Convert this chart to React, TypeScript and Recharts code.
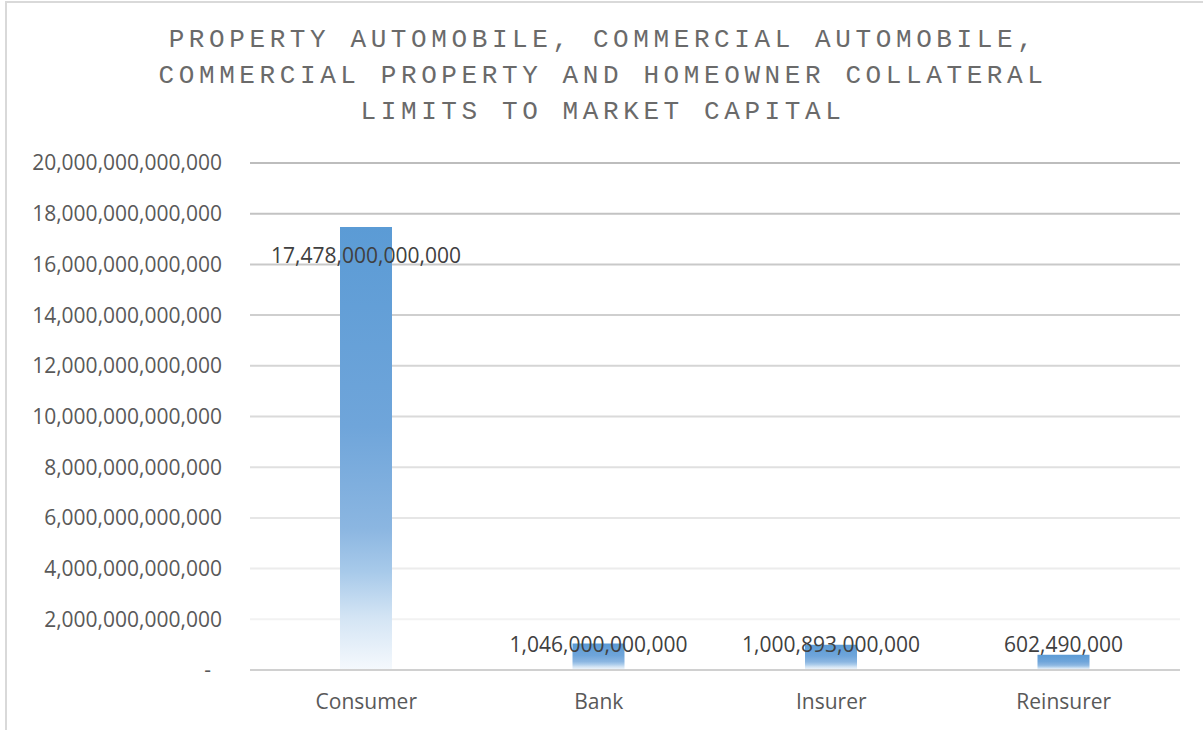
import React from "react";
import { BarChart, Bar, XAxis, YAxis, CartesianGrid, LabelList } from "recharts";

const categories = ["Consumer", "Bank", "Insurer", "Reinsurer"];
const values = [17478000000000, 1046000000000, 1000893000000, 602490000000];
const dataLabels = ["17,478,000,000,000", "1,046,000,000,000", "1,000,893,000,000", "602,490,000"];
const yTicks = [0, 2e12, 4e12, 6e12, 8e12, 10e12, 12e12, 14e12, 16e12, 18e12, 20e12];
const titleLines = [
  "PROPERTY AUTOMOBILE, COMMERCIAL AUTOMOBILE,",
  "COMMERCIAL PROPERTY AND HOMEOWNER COLLATERAL",
  "LIMITS TO MARKET CAPITAL",
];

const data = categories.map((c, i) => ({ name: c, value: values[i], label: dataLabels[i] }));

const AXIS_FONT = "'Open Sans', 'Noto Sans', sans-serif";

function lerp(a: number, b: number, t: number) {
  return Math.round(a + (b - a) * t);
}

const gridLine = (props: any) => {
  const { x1, y1, x2, y2, y, height, key } = props;
  let t = height ? (y1 - y) / height : 0;
  t = Math.max(0, Math.min(1, t / 0.9));
  const g = lerp(0xbd, 0xf2, t);
  const c = `rgb(${g},${g},${g})`;
  return <line key={key} x1={x1} y1={y1} x2={x2} y2={y2} stroke={c} strokeWidth={2} fill="none" />;
};

const yFormatter = (v: number) => (v === 0 ? "-\u00A0\u00A0" : v.toLocaleString("en-US"));

const renderLabel = (props: any) => {
  const { x, y, width, height, index } = props;
  const cx = x + width / 2;
  const cy = Math.min(y + 29, y + height - 25);
  return (
    <text
      x={cx}
      y={cy}
      dy="0.35em"
      textAnchor="middle"
      fill="#404040"
      fontSize={21}
      fontFamily={AXIS_FONT}
    >
      {dataLabels[index]}
    </text>
  );
};

export default function App() {
  return (
    <div
      style={{
        position: "absolute",
        left: 0,
        top: 0,
        width: 1203,
        height: 730,
        overflow: "hidden",
        background: "#ffffff",
      }}
    >
      <div
        style={{
          position: "absolute",
          left: 5,
          top: 1,
          width: 1198,
          height: 729,
          borderLeft: "2px solid #d9d9d9",
          borderTop: "2px solid #d9d9d9",
          boxSizing: "border-box",
        }}
      />
      <div
        style={{
          position: "absolute",
          left: 603 - 500,
          top: 22,
          width: 1000,
          textAlign: "center",
          fontFamily: "'Liberation Mono', 'Courier New', monospace",
          fontSize: 26,
          letterSpacing: 4.6,
          lineHeight: "36px",
          color: "#6a6a6a",
          whiteSpace: "pre",
        }}
      >
        {titleLines.map((l, i) => (
          <div key={i}>{l}</div>
        ))}
      </div>
      <div style={{ position: "absolute", left: 0, top: 0 }}>
        <BarChart
          width={1203}
          height={730}
          data={data}
          margin={{ top: 163, right: 23, bottom: 0, left: 0 }}
          barSize={52}
        >
          <defs>
            <linearGradient id="barGrad" x1="0" y1="0" x2="0" y2="1">
              <stop offset="0" stopColor="#5B9BD5" />
              <stop offset="0.45" stopColor="#6FA5DA" />
              <stop offset="0.68" stopColor="#8BB6E1" />
              <stop offset="0.78" stopColor="#A8CAEA" />
              <stop offset="0.88" stopColor="#D3E4F4" />
              <stop offset="1" stopColor="#F5F9FD" />
            </linearGradient>
          </defs>
          <CartesianGrid vertical={false} horizontal={gridLine} />
          <XAxis
            dataKey="name"
            height={60}
            tickLine={false}
            tickSize={0}
            tickMargin={24}
            axisLine={{ stroke: "#d0d0d0", strokeWidth: 2 }}
            tick={{ fill: "#595959", fontSize: 21, fontFamily: AXIS_FONT }}
          />
          <YAxis
            width={250}
            domain={[0, 20e12]}
            ticks={yTicks}
            interval={0}
            tickFormatter={yFormatter}
            tickLine={false}
            axisLine={false}
            tickSize={0}
            tickMargin={28}
            tick={{ fill: "#595959", fontSize: 21, fontFamily: AXIS_FONT }}
          />
          <Bar dataKey="value" fill="url(#barGrad)" isAnimationActive={false}>
            <LabelList dataKey="label" content={renderLabel} />
          </Bar>
        </BarChart>
      </div>
    </div>
  );
}
